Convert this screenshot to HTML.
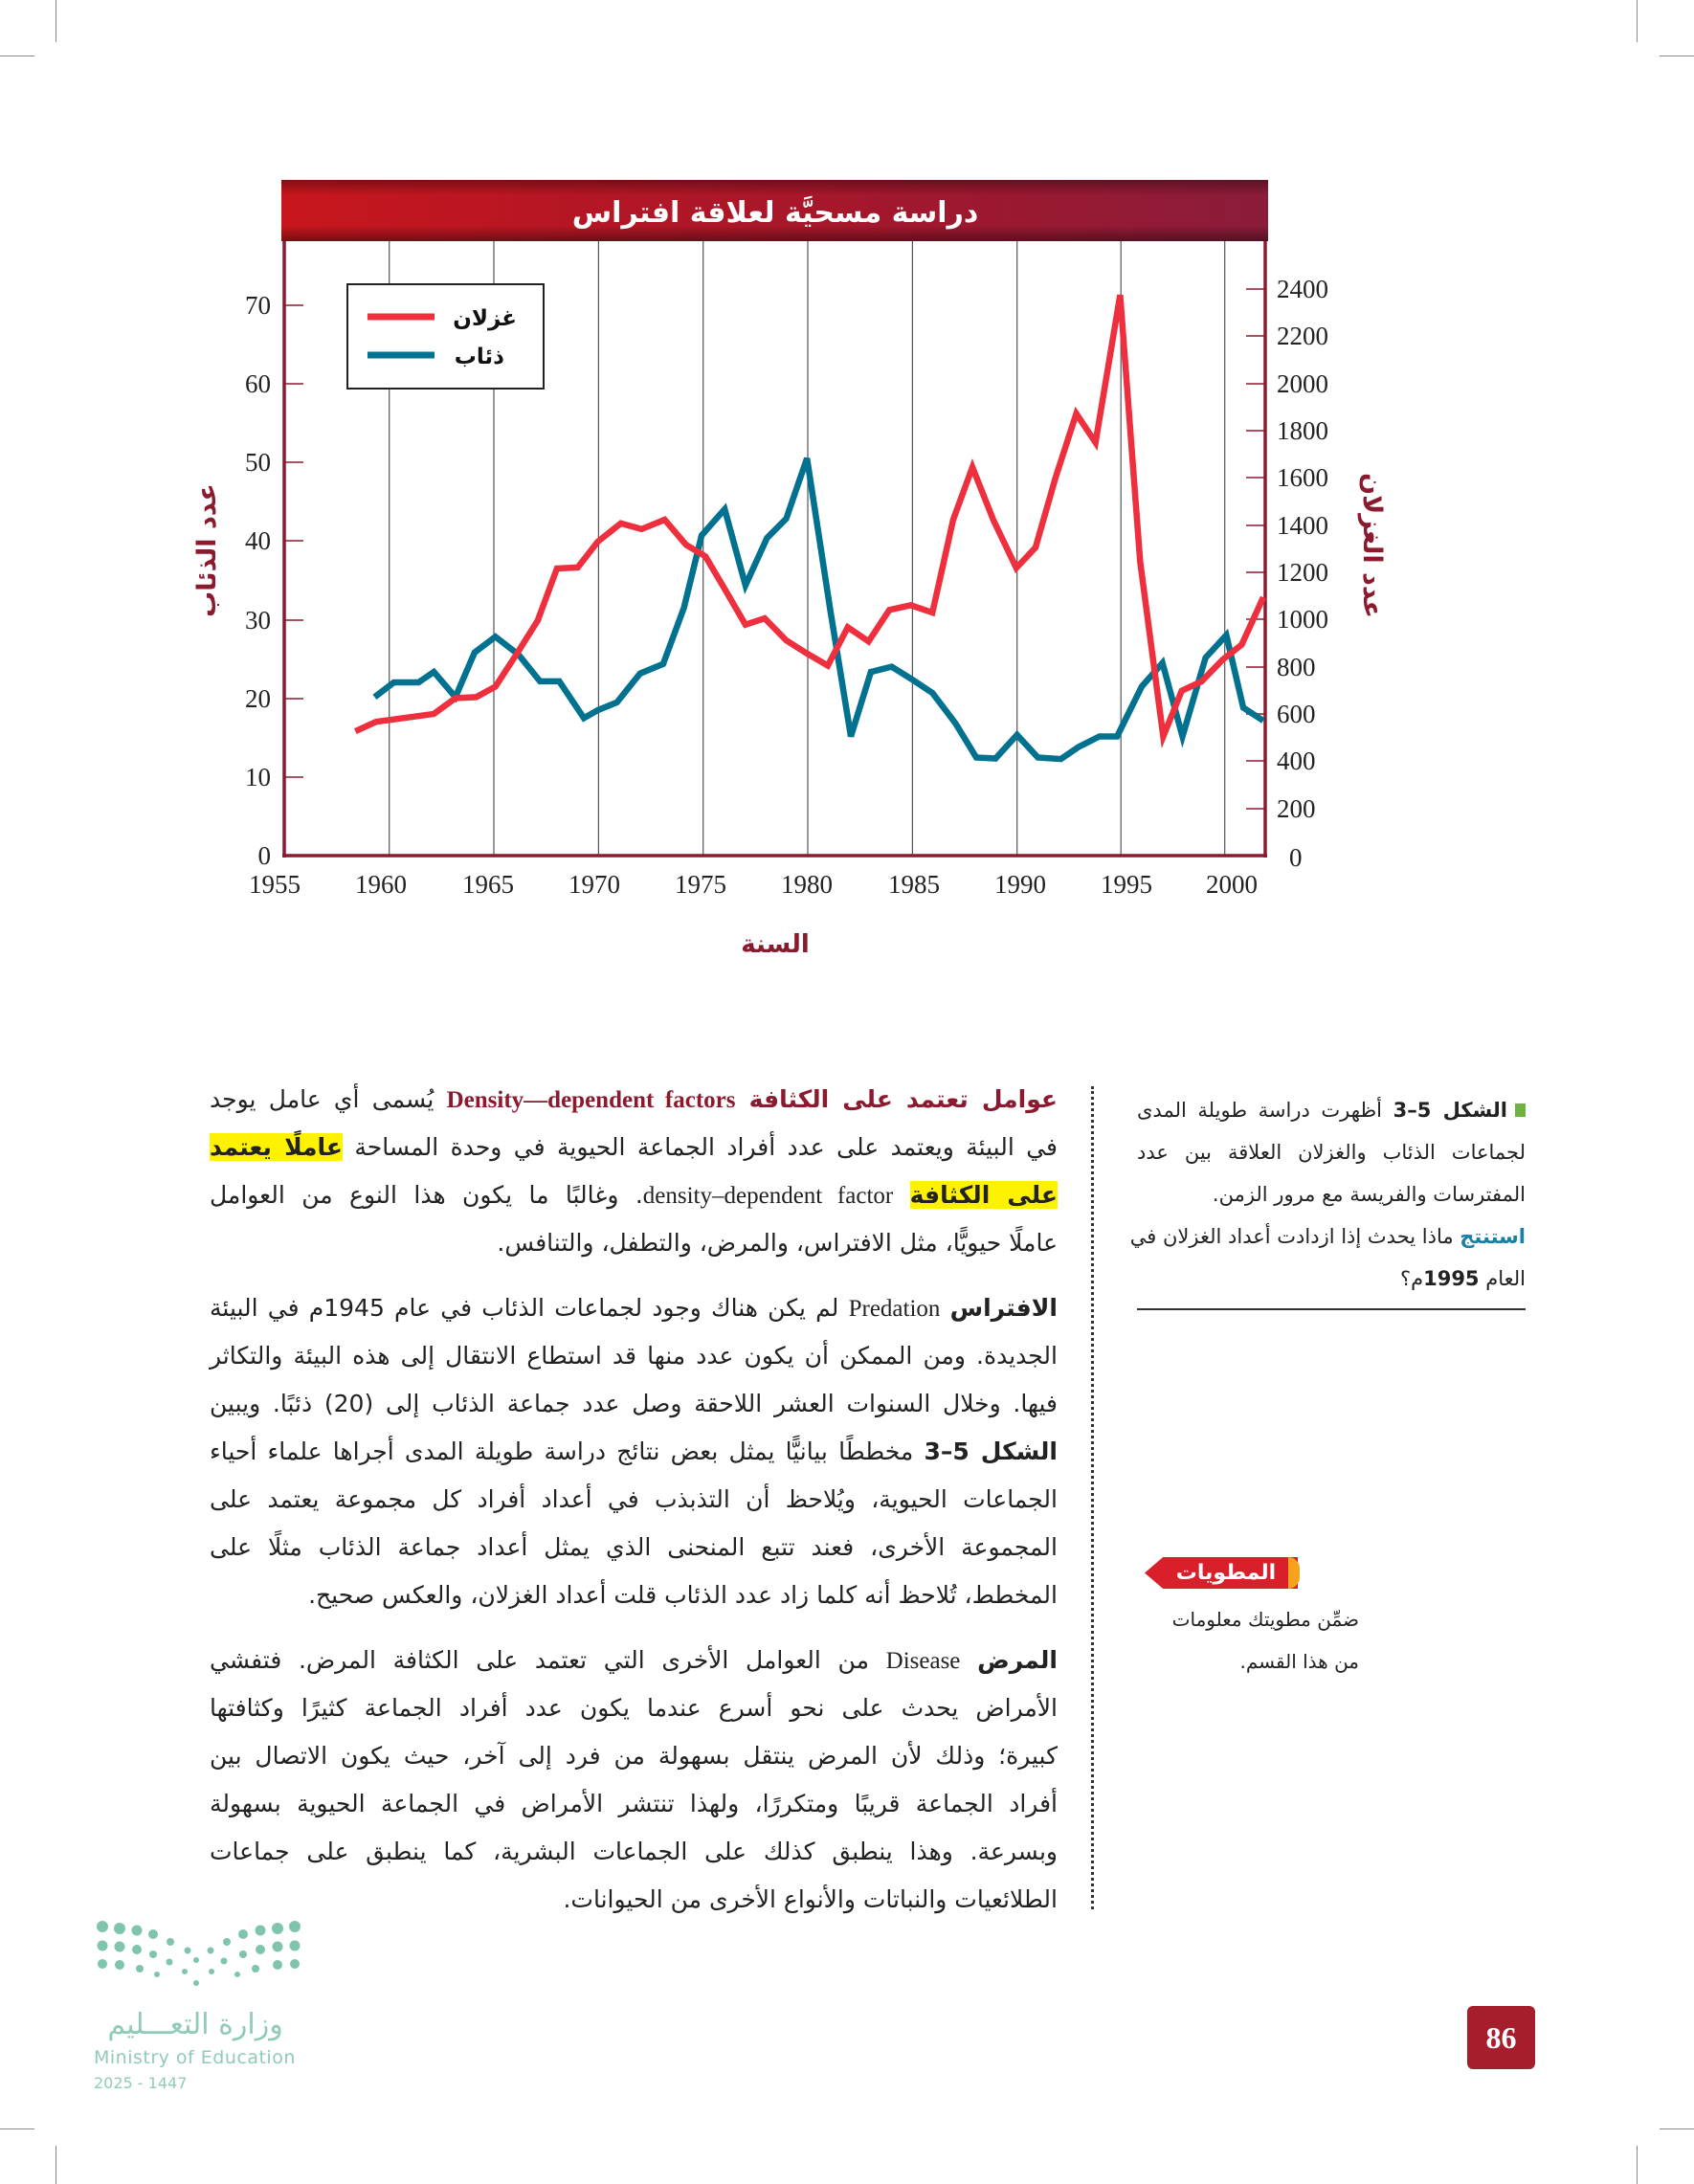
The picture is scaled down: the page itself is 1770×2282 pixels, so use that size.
<!DOCTYPE html>
<html><head><meta charset="utf-8">
<style>
html,body{margin:0;padding:0;background:#fff;}
body{width:1770px;height:2282px;position:relative;overflow:hidden;font-family:"DejaVu Sans","Liberation Sans",sans-serif;}
.abs{position:absolute;}
.main{position:absolute;left:219px;width:886px;direction:rtl;font-size:25px;color:#222;}
.ln{height:50px;line-height:50px;white-space:nowrap;text-align:justify;text-align-last:justify;}
.side{position:absolute;left:1188px;width:406px;direction:rtl;font-size:21px;color:#222;}
.sl{height:44px;line-height:44px;white-space:nowrap;text-align:justify;text-align-last:justify;}
.hl{background:#fff200;}
.red{color:#8b1a2e;font-weight:bold;}
.lat{font-family:"Liberation Serif",serif;}
</style></head><body>

<div class="abs" style="left:58px;top:0;width:1px;height:44px;background:#888"></div>
<div class="abs" style="left:0;top:58px;width:36px;height:1px;background:#888"></div>
<div class="abs" style="left:1710px;top:0;width:1px;height:44px;background:#888"></div>
<div class="abs" style="left:1734px;top:58px;width:36px;height:1px;background:#888"></div>
<div class="abs" style="left:58px;top:2242px;width:1px;height:40px;background:#888"></div>
<div class="abs" style="left:0;top:2224px;width:36px;height:1px;background:#888"></div>
<div class="abs" style="left:1710px;top:2242px;width:1px;height:40px;background:#888"></div>
<div class="abs" style="left:1734px;top:2224px;width:36px;height:1px;background:#888"></div>

<svg class="abs" style="left:0;top:0" width="1770" height="1050" viewBox="0 0 1770 1050">
<defs>
<linearGradient id="hg" x1="0" x2="1" y1="0" y2="0">
<stop offset="0" stop-color="#c8161d"/><stop offset="0.6" stop-color="#a3172c"/><stop offset="1" stop-color="#8a1c3a"/></linearGradient>
<linearGradient id="hv" x1="0" x2="0" y1="0" y2="1">
<stop offset="0" stop-color="#000" stop-opacity="0.35"/><stop offset="0.25" stop-color="#000" stop-opacity="0"/><stop offset="0.75" stop-color="#000" stop-opacity="0"/><stop offset="1" stop-color="#000" stop-opacity="0.4"/></linearGradient>
</defs>
<rect x="294" y="188" width="1031" height="64" fill="url(#hg)"/>
<rect x="294" y="188" width="1031" height="64" fill="url(#hv)"/>
<text x="810" y="232" text-anchor="middle" fill="#fff" font-size="30" font-weight="bold" font-family="DejaVu Sans,sans-serif" direction="rtl">دراسة مسحيَّة لعلاقة افتراس</text>
<g stroke="#555" stroke-width="1.2">
<line x1="406.7" y1="252" x2="406.7" y2="894"/><line x1="516" y1="252" x2="516" y2="894"/>
<line x1="625.4" y1="252" x2="625.4" y2="894"/><line x1="734.7" y1="252" x2="734.7" y2="894"/>
<line x1="844" y1="252" x2="844" y2="894"/><line x1="953.4" y1="252" x2="953.4" y2="894"/>
<line x1="1062.7" y1="252" x2="1062.7" y2="894"/><line x1="1171.2" y1="252" x2="1171.2" y2="894"/>
<line x1="1279.7" y1="252" x2="1279.7" y2="894"/>
</g>
<g stroke="#8b1a2e" stroke-width="1.5">
<line x1="297" y1="319" x2="317" y2="319"/><line x1="297" y1="401" x2="317" y2="401"/>
<line x1="297" y1="483" x2="317" y2="483"/><line x1="297" y1="565" x2="317" y2="565"/>
<line x1="297" y1="648" x2="317" y2="648"/><line x1="297" y1="730" x2="317" y2="730"/>
<line x1="297" y1="812" x2="317" y2="812"/>
<line x1="1302" y1="302" x2="1322" y2="302"/><line x1="1302" y1="351" x2="1322" y2="351"/>
<line x1="1302" y1="401" x2="1322" y2="401"/><line x1="1302" y1="450" x2="1322" y2="450"/>
<line x1="1302" y1="499" x2="1322" y2="499"/><line x1="1302" y1="549" x2="1322" y2="549"/>
<line x1="1302" y1="598" x2="1322" y2="598"/><line x1="1302" y1="647" x2="1322" y2="647"/>
<line x1="1302" y1="697" x2="1322" y2="697"/><line x1="1302" y1="746" x2="1322" y2="746"/>
<line x1="1302" y1="795" x2="1322" y2="795"/><line x1="1302" y1="845" x2="1322" y2="845"/>
</g>
<g stroke="#8b1a2e" stroke-width="3.5" fill="none">
<line x1="297" y1="252" x2="297" y2="896"/><line x1="1322" y1="252" x2="1322" y2="896"/>
<line x1="295" y1="894" x2="1324" y2="894"/>
</g>
<g transform="translate(180,170) scale(0.8039,0.5485)" fill="none">
<polyline vector-effect="non-scaling-stroke" stroke="#00718f" stroke-width="6.5" points="263,1018 288,990 320,990 340,970 368,1018 393,933 420,903 450,937 478,988 503,988 535,1058 553,1043 578,1028 608,973 638,955 665,848 688,710 718,660 745,805 773,715 798,678 825,563 855,850 882,1093 908,970 935,960 960,983 988,1010 1018,1068 1045,1133 1070,1135 1098,1090 1125,1133 1155,1136 1178,1113 1205,1093 1228,1093 1260,998 1287,953 1313,1093 1343,943 1370,900 1392,1038 1418,1063"/>
<polyline vector-effect="non-scaling-stroke" stroke="#ee2f3e" stroke-width="6.5" points="238,1083 265,1065 290,1060 315,1055 340,1050 368,1020 395,1018 420,998 448,935 475,872 500,773 527,771 553,722 583,687 610,698 640,680 668,728 693,750 718,812 745,880 770,868 798,910 825,935 852,958 878,885 905,912 932,852 960,843 988,857 1015,680 1040,580 1067,680 1097,772 1122,733 1148,600 1175,478 1200,533 1232,252 1258,760 1288,1093 1312,1006 1338,988 1365,947 1390,918 1418,828"/>
</g>
<rect x="363" y="297" width="205" height="109" fill="#fff" stroke="#222" stroke-width="2"/>
<line x1="384" y1="331" x2="454" y2="331" stroke="#ee2f3e" stroke-width="7"/>
<line x1="384" y1="371" x2="454" y2="371" stroke="#00718f" stroke-width="7"/>
<text x="540" y="340" text-anchor="end" font-size="23" font-weight="bold" fill="#111" font-family="DejaVu Sans,sans-serif">غزلان</text>
<text x="527" y="380" text-anchor="end" font-size="23" font-weight="bold" fill="#111" font-family="DejaVu Sans,sans-serif">ذئاب</text>
<g font-family="Liberation Serif,serif" font-size="27" fill="#222" text-anchor="end">
<text x="283" y="328">70</text><text x="283" y="410">60</text><text x="283" y="492">50</text>
<text x="283" y="574">40</text><text x="283" y="657">30</text><text x="283" y="739">20</text>
<text x="283" y="821">10</text><text x="283" y="903">0</text>
</g>
<g font-family="Liberation Serif,serif" font-size="27" fill="#222">
<text x="1334" y="311">2400</text><text x="1334" y="360">2200</text><text x="1334" y="410">2000</text>
<text x="1334" y="459">1800</text><text x="1334" y="508">1600</text><text x="1334" y="558">1400</text>
<text x="1334" y="607">1200</text><text x="1334" y="656">1000</text><text x="1334" y="706">800</text>
<text x="1334" y="755">600</text><text x="1334" y="804">400</text><text x="1334" y="854">200</text>
<text x="1347" y="905">0</text>
</g>
<g font-family="Liberation Serif,serif" font-size="27" fill="#222" text-anchor="middle">
<text x="287" y="933">1955</text><text x="398" y="933">1960</text><text x="510" y="933">1965</text>
<text x="621" y="933">1970</text><text x="732" y="933">1975</text><text x="843" y="933">1980</text>
<text x="955" y="933">1985</text><text x="1066" y="933">1990</text><text x="1177" y="933">1995</text>
<text x="1287" y="933">2000</text>
</g>
<text transform="translate(225,575) rotate(-90)" text-anchor="middle" font-size="27" font-weight="bold" fill="#8b1a2e" font-family="DejaVu Sans,sans-serif">عدد الذئاب</text>
<text transform="translate(1425,570) rotate(90)" text-anchor="middle" font-size="27" font-weight="bold" fill="#8b1a2e" font-family="DejaVu Sans,sans-serif">عدد الغزلان</text>
<text x="810" y="995" text-anchor="middle" font-size="26" font-weight="bold" fill="#8b1a2e" font-family="DejaVu Sans,sans-serif">السنة</text>
</svg>

<div class="main" style="top:1124px">
<div class="ln"><span class="red">عوامل تعتمد على الكثافة <span class="lat">Density—dependent factors</span></span> يُسمى أي عامل يوجد</div>
<div class="ln">في البيئة ويعتمد على عدد أفراد الجماعة الحيوية في وحدة المساحة <b class="hl">عاملًا يعتمد</b></div>
<div class="ln"><b class="hl">على الكثافة</b> <span class="lat">density–dependent factor</span>. وغالبًا ما يكون هذا النوع من العوامل</div>
<div class="ln" style="text-align-last:right">عاملًا حيويًّا، مثل الافتراس، والمرض، والتطفل، والتنافس.</div>
<div style="height:18px"></div>
<div class="ln"><b>الافتراس</b> <span class="lat">Predation</span> لم يكن هناك وجود لجماعات الذئاب في عام 1945م في البيئة</div>
<div class="ln">الجديدة. ومن الممكن أن يكون عدد منها قد استطاع الانتقال إلى هذه البيئة والتكاثر</div>
<div class="ln">فيها. وخلال السنوات العشر اللاحقة وصل عدد جماعة الذئاب إلى (20) ذئبًا. ويبين</div>
<div class="ln"><b>الشكل 5–3</b> مخططًا بيانيًّا يمثل بعض نتائج دراسة طويلة المدى أجراها علماء أحياء</div>
<div class="ln">الجماعات الحيوية، ويُلاحظ أن التذبذب في أعداد أفراد كل مجموعة يعتمد على</div>
<div class="ln">المجموعة الأخرى، فعند تتبع المنحنى الذي يمثل أعداد جماعة الذئاب مثلًا على</div>
<div class="ln" style="text-align-last:right">المخطط، تُلاحظ أنه كلما زاد عدد الذئاب قلت أعداد الغزلان، والعكس صحيح.</div>
<div style="height:18px"></div>
<div class="ln"><b>المرض</b> <span class="lat">Disease</span> من العوامل الأخرى التي تعتمد على الكثافة المرض. فتفشي</div>
<div class="ln">الأمراض يحدث على نحو أسرع عندما يكون عدد أفراد الجماعة كثيرًا وكثافتها</div>
<div class="ln">كبيرة؛ وذلك لأن المرض ينتقل بسهولة من فرد إلى آخر، حيث يكون الاتصال بين</div>
<div class="ln">أفراد الجماعة قريبًا ومتكررًا، ولهذا تنتشر الأمراض في الجماعة الحيوية بسهولة</div>
<div class="ln">وبسرعة. وهذا ينطبق كذلك على الجماعات البشرية، كما ينطبق على جماعات</div>
<div class="ln" style="text-align-last:right">الطلائعيات والنباتات والأنواع الأخرى من الحيوانات.</div>
</div>

<div class="abs" style="left:1140px;top:1135px;height:860px;border-left:3px dotted #333"></div>

<div class="side" style="top:1138px">
<div class="sl"><span style="display:inline-block;width:11px;height:14px;background:#6db33f;margin-left:8px"></span><b>الشكل 5–3</b> أظهرت دراسة طويلة المدى</div>
<div class="sl">لجماعات الذئاب والغزلان العلاقة بين عدد</div>
<div class="sl" style="text-align-last:right">المفترسات والفريسة مع مرور الزمن.</div>
<div class="sl"><b style="color:#1a7fa6">استنتج</b> ماذا يحدث إذا ازدادت أعداد الغزلان في</div>
<div class="sl" style="text-align-last:right">العام <b>1995</b>م؟</div>
</div>
<div class="abs" style="left:1188px;top:1367px;width:406px;height:2px;background:#333"></div>

<div class="abs" style="left:1196px;top:1627px;width:169px;height:33px;">
<div class="abs" style="left:0;top:0;width:160px;height:33px;background:#d81f2a;clip-path:polygon(12% 0,100% 0,100% 100%,12% 100%,0 50%)"></div>
<div class="abs" style="left:150px;top:0;width:12px;height:33px;background:#f6a21b;border-radius:0 16px 16px 0"></div>
<div class="abs" style="left:20px;top:0;width:130px;height:33px;line-height:33px;text-align:center;color:#fff;font-weight:bold;font-size:22px">المطويات</div>
</div>
<div class="abs" style="left:1190px;top:1670px;width:230px;direction:rtl;font-size:20px;line-height:44px;color:#222;text-align:right">
<div>ضمِّن مطويتك معلومات</div><div>من هذا القسم.</div></div>

<svg class="abs" style="left:95px;top:2005px" width="220" height="75">
<g fill="#7fc4ad">
<circle cx="12" cy="8" r="6"/><circle cx="30" cy="10" r="6"/><circle cx="48" cy="12" r="5.5"/><circle cx="65" cy="16" r="5"/><circle cx="83" cy="24" r="4"/><circle cx="101" cy="33" r="3.5"/>
<circle cx="213" cy="8" r="6"/><circle cx="195" cy="10" r="6"/><circle cx="177" cy="12" r="5.5"/><circle cx="159" cy="16" r="5"/><circle cx="142" cy="24" r="4"/><circle cx="125" cy="33" r="3.5"/>
<circle cx="12" cy="28" r="5.5"/><circle cx="30" cy="29" r="5.5"/><circle cx="48" cy="32" r="5"/><circle cx="65" cy="37" r="4"/><circle cx="82" cy="45" r="3.5"/><circle cx="110" cy="43" r="3"/>
<circle cx="213" cy="28" r="5.5"/><circle cx="195" cy="29" r="5.5"/><circle cx="177" cy="32" r="5"/><circle cx="159" cy="37" r="4"/><circle cx="139" cy="44" r="3.5"/>
<circle cx="12" cy="47" r="5"/><circle cx="30" cy="48" r="5"/><circle cx="51" cy="52" r="4"/><circle cx="69" cy="58" r="3"/><circle cx="98" cy="55" r="3"/><circle cx="110" cy="67" r="3"/>
<circle cx="213" cy="47" r="5"/><circle cx="195" cy="48" r="5"/><circle cx="172" cy="52" r="4"/><circle cx="153" cy="58" r="3"/><circle cx="126" cy="55" r="3"/>
</g></svg>
<div class="abs" style="left:98px;top:2098px;width:212px;text-align:center;direction:rtl;font-size:30px;color:#8fcbb9">وزارة التعـــليم</div>
<div class="abs" style="left:98px;top:2139px;font-size:19px;color:#8fcbb9;letter-spacing:0.5px">Ministry of Education</div>
<div class="abs" style="left:98px;top:2167px;font-size:16px;color:#8fcbb9">2025 - 1447</div>

<div class="abs" style="left:1533px;top:2096px;width:71px;height:66px;background:#a61d2b;border-radius:6px;color:#fff;font-family:'Liberation Serif',serif;font-weight:bold;font-size:32px;line-height:66px;text-align:center">86</div>
</body></html>
